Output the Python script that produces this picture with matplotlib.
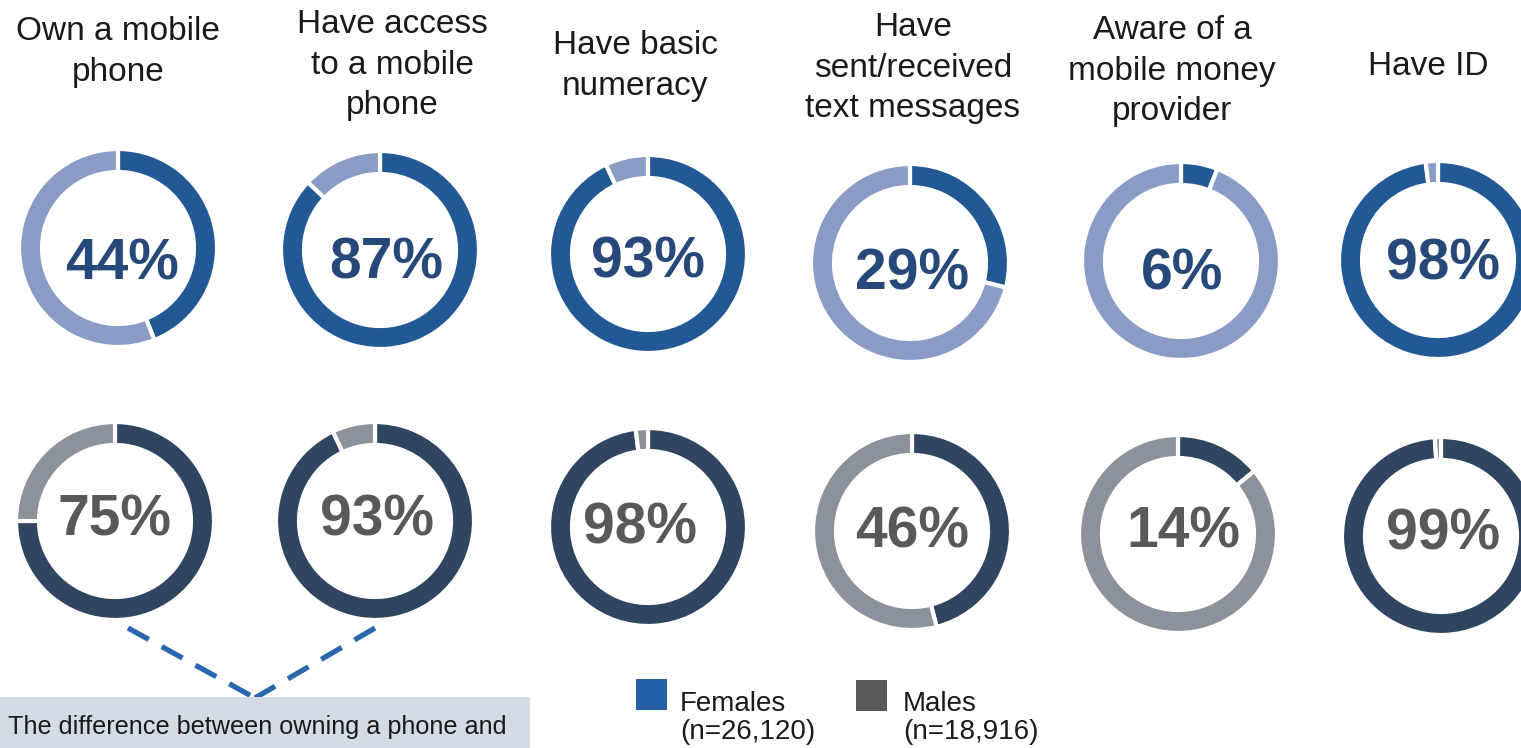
import matplotlib.pyplot as plt
from matplotlib.patches import Rectangle

plt.rcParams['font.family'] = ['Liberation Sans', 'DejaVu Sans']

# Data
categories = ['Own a mobile\nphone', 'Have access\nto a mobile\nphone', 'Have basic\nnumeracy',
              'Have\nsent/received\ntext messages', 'Aware of a\nmobile money\nprovider', 'Have ID']
females = [44, 87, 93, 29, 6, 98]
males = [75, 93, 98, 46, 14, 99]
legend_labels = ['Females\n(n=26,120)', 'Males\n(n=18,916)']
note = 'The difference between owning a phone and'

# Layout (pixels from top-left)
W, H = 1521, 748
top_cx = [118, 380, 648, 910, 1181, 1438]
top_cy = [248, 250, 254, 263, 261, 260]
bot_cx = [115, 375, 648, 912, 1178, 1441]
bot_cy = [521, 521, 527, 531, 534, 536]
top_tx = [122, 386, 648, 912, 1182, 1443]
top_ty = [258, 257, 256, 268, 268, 258]
bot_tx = [115, 377, 640, 912, 1183, 1443]
bot_ty = [514, 515, 522, 527, 527, 528]
title_x = [118, 392, 635, 913, 1172, 1428]
title_y = [52, 65, 66, 68, 71, 66]
R, RW = 99, 23

f_dark, f_light, f_text = '#225894', '#8a9cc5', '#27497a'
m_dark, m_light, m_text = '#2f4560', '#8b929c', '#595959'

fig = plt.figure(figsize=(W / 100, H / 100), dpi=100)
ax = fig.add_axes([0, 0, 1, 1])


def donut(val, cx, cy, tx, ty, dark, light, tcol):
    ax.pie([val, 100 - val], colors=[dark, light], startangle=90, counterclock=False,
           center=(cx, H - cy), radius=R,
           wedgeprops=dict(width=RW, edgecolor='white', linewidth=3))
    # baseline sits half a digit height below the visual centre
    ax.text(tx, H - ty - 21, f'{val}%', ha='center', va='baseline',
            fontsize=41, fontweight='bold', color=tcol)


for i in range(len(categories)):
    donut(females[i], top_cx[i], top_cy[i], top_tx[i], top_ty[i], f_dark, f_light, f_text)
    donut(males[i], bot_cx[i], bot_cy[i], bot_tx[i], bot_ty[i], m_dark, m_light, m_text)
    ax.text(title_x[i], H - title_y[i], categories[i], ha='center', va='center',
            fontsize=24, color='#1a1a1a', linespacing=1.38)

# dashed connector lines
ax.plot([128, 255], [H - 628, H - 698], color='#2b67ad', lw=3.8, ls=(0, (4.5, 2.8)))
ax.plot([375, 255], [H - 628, H - 698], color='#2b67ad', lw=3.8, ls=(0, (4.5, 2.8)))

# note box
ax.add_patch(Rectangle((0, 0), 530, H - 697, facecolor='#d3dbe5', edgecolor='none', zorder=3))
ax.text(8, H - 727, note, ha='left', va='center', fontsize=18.2, color='#1a1a1a', zorder=4)

# legend
ax.add_patch(Rectangle((636, H - 710), 31, 31, facecolor='#2660a4', edgecolor='none'))
ax.add_patch(Rectangle((856, H - 711), 31, 31, facecolor='#595959', edgecolor='none'))
ax.text(680, H - 718, legend_labels[0], ha='left', va='center', fontsize=20,
        color='#1a1a1a', linespacing=1.1)
ax.text(903, H - 718, legend_labels[1], ha='left', va='center', fontsize=20,
        color='#1a1a1a', linespacing=1.1)

ax.set_xlim(0, W)
ax.set_ylim(0, H)
ax.set_aspect('auto')
ax.axis('off')

plt.savefig('out.png', dpi=100)
